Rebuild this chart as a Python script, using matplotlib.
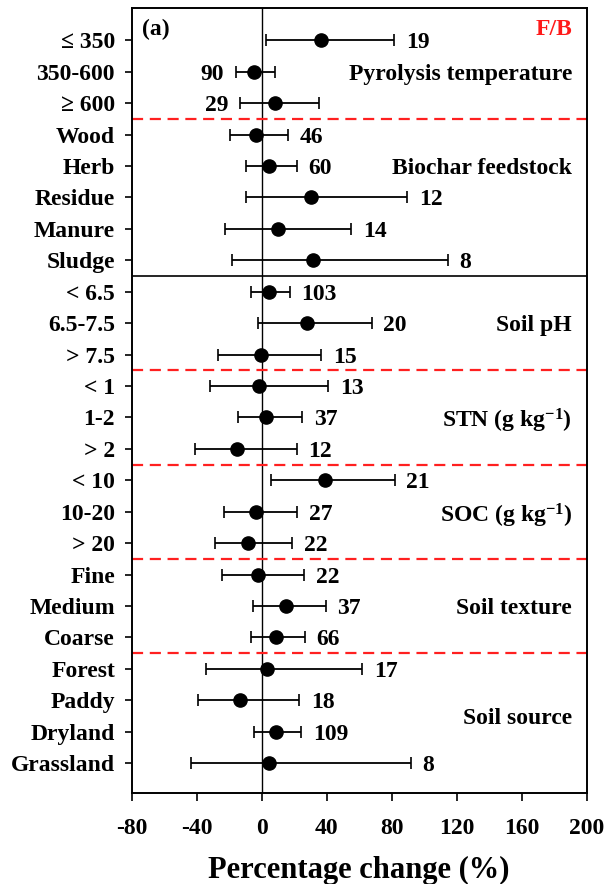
import matplotlib
matplotlib.use('Agg')
import matplotlib.pyplot as plt
import numpy as np

plt.rcParams['font.family'] = ['Liberation Serif', 'DejaVu Serif']
plt.rcParams['font.weight'] = 'bold'
plt.rcParams['mathtext.fontset'] = 'custom'
plt.rcParams['mathtext.rm'] = 'Liberation Serif:bold'
plt.rcParams['mathtext.bf'] = 'Liberation Serif:bold'
plt.rcParams['mathtext.default'] = 'bf'
plt.rcParams['axes.unicode_minus'] = False

labels = ['≤ 350', '350-600', '≥ 600', 'Wood', 'Herb', 'Residue', 'Manure', 'Sludge',
          '< 6.5', '6.5-7.5', '> 7.5', '< 1', '1-2', '> 2', '< 10', '10-20', '> 20',
          'Fine', 'Medium', 'Coarse', 'Forest', 'Paddy', 'Dryland', 'Grassland']
mean = [36.8, -4.7, 8.3, -3.7, 4.8, 30.6, 9.8, 31.8,
        4.8, 28.0, -0.2, -1.8, 2.9, -15.1, 38.9, -3.3, -8.2,
        -2.3, 15.2, 9.0, 3.1, -13.2, 8.6, 4.5]
low = [2.9, -15.8, -13.2, -19.6, -9.7, -9.7, -22.5, -18.2,
       -6.3, -2.3, -27.2, -31.7, -14.6, -41.2, 5.5, -23.2, -28.9,
       -24.6, -5.2, -6.3, -34.0, -39.0, -4.9, -43.3]
high = [81.6, 8.3, 35.3, 15.9, 21.6, 89.4, 55.0, 114.5,
        17.3, 67.6, 36.7, 41.0, 24.9, 21.6, 81.8, 21.8, 18.8,
        25.9, 39.4, 26.4, 61.9, 23.0, 24.4, 91.8]
n = [19, 90, 29, 46, 60, 12, 14, 8,
     103, 20, 15, 13, 37, 12, 21, 27, 22,
     22, 37, 66, 17, 18, 109, 8]
n_on_left = ['350-600', '≥ 600']

groups = ['Pyrolysis temperature', 'Biochar feedstock', 'Soil pH', 'STN (g kg$^{-1}$)',
          'SOC (g kg$^{-1}$)', 'Soil texture', 'Soil source']
group_rows = [1, 4, 9, 12, 15, 18, 21.5]
red_lines = [2.5, 10.5, 13.5, 16.5, 19.5]
black_lines = [7.5]

mean = np.array(mean)
low = np.array(low)
high = np.array(high)
y = np.arange(len(labels))

fig = plt.figure(figsize=(6.05, 8.84), dpi=100)
ax = fig.add_axes([0.2177, 0.103, 0.752, 0.888])

ax.axvline(0, color='black', lw=1.0, zorder=1)
for yy in red_lines:
    ax.axhline(yy, color='#ff2020', lw=1.6, ls=(0, (5, 3)), zorder=1)
for yy in black_lines:
    ax.axhline(yy, color='black', lw=1.2, zorder=1)

ax.errorbar(mean, y, xerr=[mean - low, high - mean], fmt='o', color='black',
            ecolor='black', elinewidth=1.3, capsize=4, capthick=1.2, markersize=9.5, zorder=3)

for i in range(len(labels)):
    if labels[i] in n_on_left:
        ax.annotate(str(n[i]), (low[i], y[i]), xytext=(-8.5, 0), textcoords='offset points',
                    ha='right', va='center_baseline', fontsize=17, fontweight='bold')
    else:
        ax.annotate(str(n[i]), (high[i], y[i]), xytext=(8.5, 0), textcoords='offset points',
                    ha='left', va='center_baseline', fontsize=17, fontweight='bold')

for g, r in zip(groups, group_rows):
    ax.text(0.968, r, g, transform=ax.get_yaxis_transform(), ha='right', va='center_baseline',
            fontsize=17, fontweight='bold')

ax.text(0.022, -0.42, '(a)', transform=ax.get_yaxis_transform(), ha='left', va='center_baseline',
        fontsize=17, fontweight='bold')
ax.text(0.968, -0.42, 'F/B', transform=ax.get_yaxis_transform(), ha='right', va='center_baseline',
        fontsize=17, fontweight='bold', color='#ff1a1a')

ax.set_xlim(-80, 200)
ax.set_ylim(23.95, -1.03)
ax.set_xticks([-80, -40, 0, 40, 80, 120, 160, 200])
ax.set_yticks(y)
ax.set_yticklabels(labels)
ax.tick_params(axis='y', length=5, width=1.2, pad=7, labelsize=17)
ax.tick_params(axis='x', length=6, width=1.2, pad=12, labelsize=17)
for lab in ax.get_xticklabels() + ax.get_yticklabels():
    lab.set_fontweight('bold')
for s in ax.spines.values():
    s.set_linewidth(1.4)

ax.set_xlabel('Percentage change (%)', fontsize=22, fontweight='bold', labelpad=12)

fig.savefig('out.png', dpi=100)
